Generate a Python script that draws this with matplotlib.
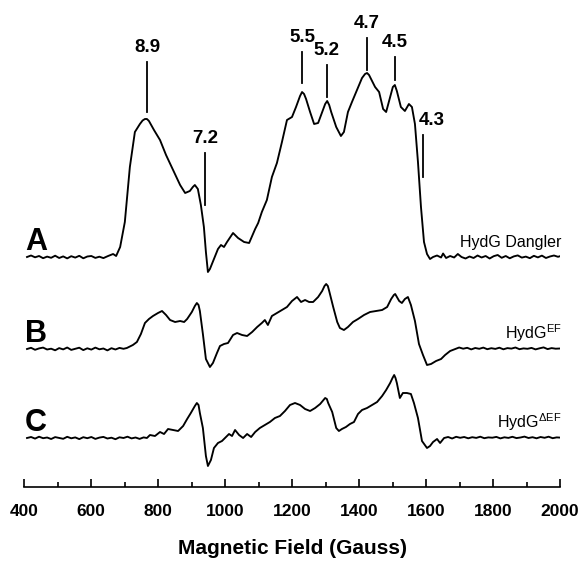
import matplotlib.pyplot as plt
import numpy as np

plt.rcParams['font.family'] = ['Liberation Sans', 'DejaVu Sans']
plt.rcParams['mathtext.fontset'] = 'custom'
plt.rcParams['mathtext.rm'] = 'Liberation Sans'

# Trace A: HydG Dangler (field in Gauss, signal in arbitrary units)
a_field = [409, 421, 433, 445, 457, 469, 481, 493, 505, 517, 529, 541, 553, 565, 577,
           589, 601, 613, 625, 637, 651, 666, 675, 687, 701, 716, 731, 746, 754, 761, 767, 773,
           788, 806, 824, 845, 866, 881, 895, 904, 910, 919, 928, 937, 943, 949, 955, 967,
           979, 988, 997, 1006, 1024, 1039, 1057, 1072, 1090, 1099, 1110, 1125, 1140, 1155, 1170,
           1185, 1200, 1212, 1224, 1230, 1236, 1242, 1254, 1266, 1278, 1290, 1299, 1305, 1311, 1317,
           1332, 1346, 1355, 1367, 1379, 1394, 1409, 1418, 1424, 1430, 1436, 1448, 1460, 1472, 1481,
           1493, 1501, 1507, 1513, 1525, 1537, 1549, 1558, 1567, 1576, 1585, 1594, 1603, 1612, 1621,
           1633, 1645, 1651, 1660, 1672, 1684,
           1695, 1706, 1718, 1730, 1742, 1754, 1766, 1778, 1790, 1802, 1814, 1826, 1838, 1850, 1862,
           1874, 1886, 1898, 1910, 1922, 1934, 1946, 1958, 1970, 1982, 1994, 2000]
a_signal = [0, 1.5, -0.3, 1.0, -1.2, 0.4, -0.8, 1.3, -1.0, 0.6, -1.4, 0.8, -0.6, 1.2, -1.3,
            0.5, 1.0, -0.9, 0.3, -1.1, 1, 3, 1, 10, 35, 90, 125, 133, 136.5, 138, 138, 136,
            127, 117, 102, 87, 72, 64, 66, 70, 72, 68, 52, 30, 5, -15, -12, -2,
            8, 12, 10, 15, 24, 19, 15, 14, 28, 34, 45, 57, 80, 94, 115,
            137, 140, 150, 161, 165, 163, 158, 145, 133, 134, 145, 153, 156, 152, 145,
            130, 121, 125, 145, 155, 167, 179, 183, 184, 182, 178, 170, 165, 148, 145,
            160, 170, 172, 166, 150, 146, 153, 150, 133, 95, 50, 15, 3, -2, 0,
            1.5, -0.5, 3.5, -1, 1, -0.5,
            3, 0, -1.5, 0.5, -1, 1.5, -0.5, 1.0, -1.5, 0.8, 2.0, -0.8, 1.0, -1.3, 0.6,
            1.6, -0.6, 0.4, -1.2, 1.2, -0.4, 1.4, -1.0, 0.5, 1.5, 0.2, 0.8]

# Trace B: HydG EF
b_field = [409, 421, 433, 445, 457, 469, 481, 493, 505, 517, 529, 541, 553, 565, 577,
           589, 601, 613, 625, 637, 649, 661, 673, 685, 697, 707, 725, 737, 749, 761,
           773, 785, 800, 812, 824, 836, 851, 866, 878, 887, 901, 910, 916, 921, 925, 934, 943,
           955, 964, 976, 985, 997, 1009, 1024, 1036, 1051, 1066, 1081, 1096, 1110, 1119, 1128,
           1140, 1155, 1170, 1185, 1200, 1215, 1227, 1239, 1251, 1263, 1278, 1290, 1297, 1302, 1307,
           1311, 1323, 1335, 1343, 1355, 1367, 1382, 1397, 1415, 1433, 1451, 1469, 1484, 1496, 1504,
           1508, 1513, 1520, 1528, 1537, 1546, 1555, 1567, 1579, 1591, 1603, 1615, 1630, 1645, 1657,
           1672, 1687, 1699, 1711,
           1723, 1735, 1747, 1759, 1771, 1783, 1795, 1807, 1819, 1831, 1843, 1855, 1867, 1879, 1891,
           1903, 1915, 1927, 1939, 1951, 1963, 1975, 1987, 2000]
b_signal = [0, 1.2, -0.8, 0.6, 1.4, -0.5, 0.3, -1.3, 0.9, -0.4, 1.5, -0.9, 0.2, 1.3, -1.1,
            0.7, -0.6, 1.4, -0.3, 0.5, -1.4, 0.8, -0.5, 1.1, 0.2, 1, 4, 7, 15, 26,
            30, 33, 36, 38, 34, 29, 27, 28, 27, 30, 37, 43, 46, 44, 38, 15, -10,
            -18, -14, -4, 3, 5, 6, 14, 16, 14, 13, 17, 22, 26, 29, 24,
            33, 36, 39, 42, 48, 52, 47, 49, 47, 47, 52, 58, 63, 65, 63,
            58, 42, 27, 21, 19, 22, 27, 30, 34, 37, 38, 39, 42, 50, 54,
            55, 52, 48, 46, 50, 52, 44, 28, 5, -6, -16, -15, -12, -10, -6,
            -2, 0, 1.5, 0.3,
            1.2, -0.4, 1.0, 0.2, 1.4, -0.2, 0.8, 0.1, 1.3, -0.3, 0.9, 0.4, 1.5, -0.2, 0.6,
            0.2, 1.1, -0.4, 0.7, 1.6, -0.1, 0.9, 0.3, 0.5]

# Trace C: HydG delta-EF
c_field = [409, 421, 433, 445, 457, 469, 481, 493, 505, 517, 529, 541, 553, 565, 577,
           589, 601, 613, 625, 637, 649, 661, 673, 685, 697, 709, 721, 733, 745, 757,
           767, 776, 791, 806, 818, 830, 845, 860, 875, 887, 898, 910, 916, 921, 925, 934,
           943, 949, 958, 967, 979, 991, 1003, 1012, 1021, 1030, 1042, 1054, 1066, 1078, 1090,
           1104, 1119, 1134, 1149, 1164, 1179, 1194, 1209, 1224, 1239, 1254, 1269, 1284, 1294, 1299,
           1304, 1308, 1320, 1332, 1340, 1349, 1361, 1373, 1385, 1397, 1409, 1424, 1439, 1454, 1469,
           1481, 1493, 1500, 1505, 1509, 1513, 1522, 1531, 1543, 1555, 1564, 1576, 1588, 1603, 1612,
           1621, 1633, 1642, 1654,
           1666, 1678, 1690, 1702, 1714, 1726, 1738, 1750, 1762, 1774, 1786, 1798, 1810, 1822, 1834,
           1846, 1858, 1870, 1882, 1894, 1906, 1918, 1930, 1942, 1954, 1966, 1978, 1990, 2000]
c_signal = [0, 1.0, -0.6, 1.3, -0.2, 0.5, -1.0, 0.9, 0.1, -0.8, 1.2, -0.3, 0.6, -1.1, 0.8,
            -0.2, 1.0, -0.9, 0.4, 1.1, -0.5, 0.3, -1.2, 0.7, 0.0, 1.3, -0.4, 0.5, -0.9, 0.6,
            0, 3, 2, 6, 4, 9, 8, 7, 12, 19, 25, 32, 35, 33, 25, 10,
            -18, -28, -22, -10, -5, -3, 1, 4, 2, 8, 3, 0, 4, 1, 6,
            10, 13, 16, 20, 22, 27, 33, 35, 33, 29, 27, 30, 34, 38, 40,
            39, 35, 26, 10, 7, 9, 11, 14, 16, 24, 28, 30, 33, 36, 42,
            48, 55, 60, 63, 60, 55, 40, 45, 45, 44, 35, 20, -3, -10, -8,
            -4, -1, -5, 0,
            1, -0.5, 1.2, 0.2, 1.0, -0.3, 0.8, 0.1, 1.3, -0.2, 0.6, 0.3, 1.1, -0.4, 0.7,
            0.1, 1.2, -0.1, 0.5, 1.4, 0.0, 0.8, -0.3, 1.0, 0.2, 1.3, -0.2, 0.6, 0.4]

offsets = [230, 138, 49]
panel_letters = ['A', 'B', 'C']
sample_names = ['HydG Dangler', r'HydG$^{\mathrm{EF}}$', r'HydG$^{\mathrm{\Delta EF}}$']

# g-value markers on trace A: (label, field, line bottom, line top)
g_labels = ['8.9', '7.2', '5.5', '5.2', '4.7', '4.5', '4.3']
g_fields = [767, 940, 1230, 1304, 1424, 1508, 1591]
g_line_lo = [375, 282, 404, 390, 417, 407, 310]
g_line_hi = [425, 334, 435, 422, 449, 430, 352]

fig = plt.figure(figsize=(5.86, 5.61), dpi=100)
ax = fig.add_axes([24 / 586, 74 / 561, 536 / 586, 487 / 561])

for field, signal, off in zip([a_field, b_field, c_field],
                              [a_signal, b_signal, c_signal], offsets):
    ax.plot(field, np.array(signal) + off, color='black', lw=1.35,
            solid_joinstyle='round')

for letter, name, off in zip(panel_letters, sample_names, offsets):
    ax.text(403, off + 7, letter, fontsize=22, fontweight='bold',
            ha='left', va='baseline')
    ax.text(2004, off + 10, name, fontsize=11.5, ha='right', va='baseline',
            clip_on=False)

for lab, f, lo, hi in zip(g_labels, g_fields, g_line_lo, g_line_hi):
    ax.plot([f, f], [lo, hi], color='black', lw=1.3)
    xt = f + 27 if lab == '4.3' else f
    ax.text(xt, hi + 6, lab, fontsize=13.5, fontweight='bold', ha='center', va='bottom')

ax.set_xlim(400, 2000)
ax.set_ylim(0, 487)
ax.set_xticks([400, 600, 800, 1000, 1200, 1400, 1600, 1800, 2000])
ax.set_xticks([500, 700, 900, 1100, 1300, 1500, 1700, 1900], minor=True)
ax.tick_params(axis='x', which='major', direction='in', length=6, width=1.2,
               pad=12, labelsize=12.5)
ax.tick_params(axis='x', which='minor', direction='in', length=3.5, width=1.2)
for t in ax.get_xticklabels():
    t.set_fontweight('bold')
ax.set_yticks([])
for side in ['left', 'right', 'top']:
    ax.spines[side].set_visible(False)
ax.spines['bottom'].set_linewidth(1.2)
ax.set_xlabel('Magnetic Field (Gauss)', fontsize=15, fontweight='bold', labelpad=15)

fig.savefig('out.png', dpi=100)
